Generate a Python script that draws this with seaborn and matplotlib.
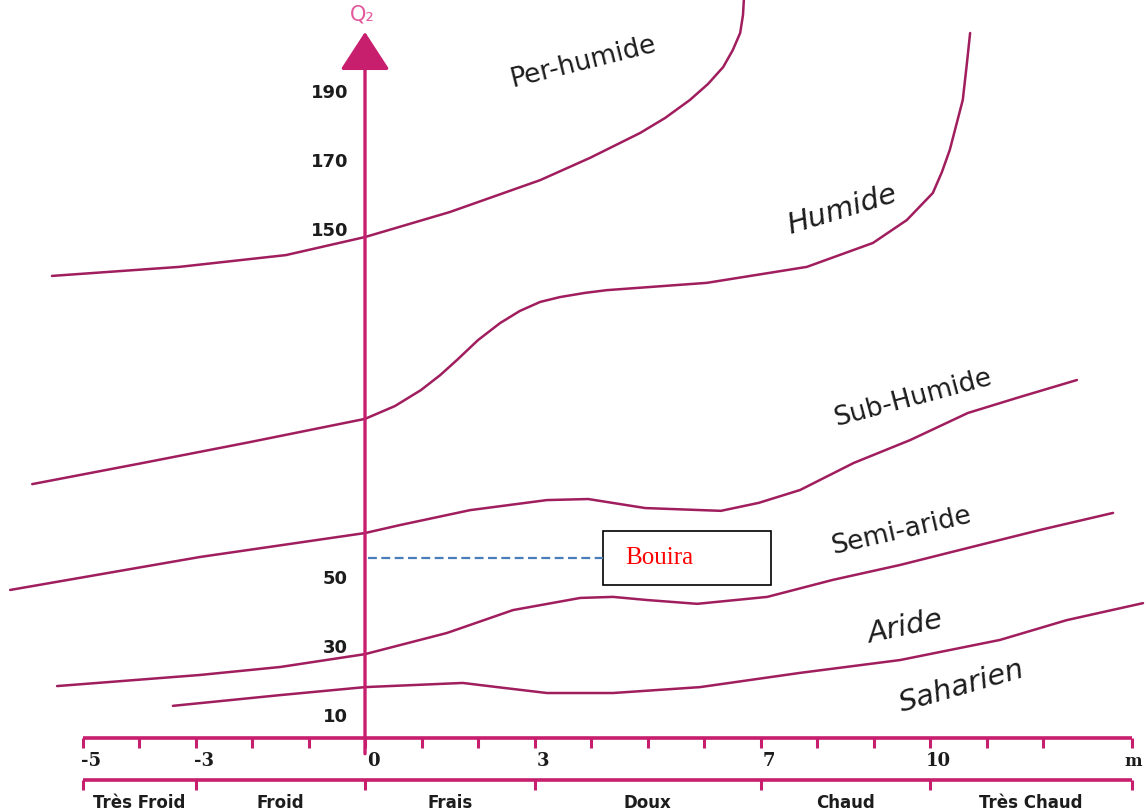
import numpy as np
import pandas as pd
import seaborn as sns
import matplotlib.pyplot as plt
from matplotlib.patches import Rectangle

# Climagramme d'Emberger : Q2 en fonction de m
sns.set_theme(style="white")
plt.rcParams['font.family'] = ['DejaVu Sans']

# courbes limites entre les étages bioclimatiques
per_humide_m = [-5.54, -3.29, -1.40, 0.0, 1.50, 3.10, 3.98, 4.87, 5.31, 5.75, 6.07, 6.34, 6.51, 6.64, 6.69, 6.71]
per_humide_q = [137.2, 139.8, 143.2, 148.4, 155.6, 164.8, 171.2, 178.4, 182.7, 187.9, 192.5, 197.4, 202.3, 207.2, 212.4, 218.0]

humide_m = [-5.89, -3.93, -2.04, 0.0, 0.53, 0.99, 1.33, 1.63, 2.00, 2.39, 2.74, 3.10, 3.45, 3.89, 4.28,
            6.05, 7.82, 8.99, 9.59, 10.05, 10.21, 10.35, 10.58, 10.65, 10.71]
humide_q = [77.2, 83.3, 89.3, 96.0, 99.7, 104.3, 108.6, 113.0, 118.7, 123.6, 127.1, 129.7, 131.1, 132.3, 133.1,
            135.2, 139.8, 146.7, 153.3, 161.1, 167.1, 173.5, 187.9, 198.0, 207.2]

sub_humide_m = [-6.28, -2.92, 0.0, 0.62, 1.86, 3.22, 3.95, 4.96, 6.30, 6.97, 7.70, 8.65, 9.65, 10.67, 11.59, 12.60]
sub_humide_q = [46.7, 56.2, 63.1, 65.4, 69.7, 72.6, 72.9, 70.3, 69.5, 71.8, 75.5, 83.3, 89.9, 97.7, 102.3, 107.2]

aride_m = [-5.45, -2.92, -1.50, 0.0, 1.45, 2.62, 3.81, 4.39, 4.99, 5.88, 7.12, 8.28, 9.47, 10.67, 11.95, 13.24]
aride_q = [19.0, 22.2, 24.5, 28.2, 34.3, 40.9, 44.4, 44.7, 43.8, 42.7, 44.7, 49.6, 53.9, 58.8, 64.0, 68.9]

saharien_m = [-3.40, -1.50, 0.0, 1.73, 2.34, 3.22, 4.39, 5.93, 7.70, 9.47, 11.24, 12.42, 13.77]
saharien_q = [13.3, 16.4, 18.7, 19.9, 18.7, 17.0, 17.0, 18.7, 22.8, 26.5, 32.3, 38.0, 42.9]

# étiquettes des étages
etages = ['Per-humide', 'Humide', 'Sub-Humide', 'Semi-aride', 'Aride', 'Saharien']
etage_m = [3.86, 8.44, 9.70, 9.50, 9.56, 10.57]
etage_q = [198.8, 156.2, 102.0, 63.7, 36.0, 19.0]
etage_rot = [14, 17, 15, 13, 12, 16]
etage_style = ['normal', 'italic', 'normal', 'normal', 'italic', 'italic']

# axes
q_ticks = [10, 30, 50, 150, 170, 190]
m_ticks = list(range(-5, 13))
m_labels = [-5, -3, 0, 3, 7, 10]
m_fin = 13.58
classes = ['Très Froid', 'Froid', 'Frais', 'Doux', 'Chaud', 'Très Chaud']
bornes = [-5, -3, 0, 3, 7, 10, m_fin]

# station
station = 'Bouira'
station_q = 56.0

axe_col = '#c81e6e'
courbe_col = '#a01d5e'
txt_col = '#1c1c1c'

fig = plt.figure(figsize=(11.46, 8.11), dpi=100)
ax = fig.add_axes([0, 0, 1, 1])

courbes = [(per_humide_m, per_humide_q), (humide_m, humide_q), (sub_humide_m, sub_humide_q),
           (aride_m, aride_q), (saharien_m, saharien_q)]
for xs, ys in courbes:
    df = pd.DataFrame({'m': xs, 'Q2': ys})
    sns.lineplot(data=df, x='m', y='Q2', ax=ax, color=courbe_col, lw=1.8,
                 sort=False, estimator=None)
ax.set_xlim(-365 / 56.5, (1146 - 365) / 56.5)
ax.set_ylim((752 - 811) / 3.47, 752 / 3.47)
ax.axis('off')

# axe Q2 avec flèche
ax.annotate('', xy=(0, 207.5), xytext=(0, -0.5),
            arrowprops=dict(arrowstyle='-|>,head_length=2.0,head_width=1.3',
                            color=axe_col, lw=2.4, shrinkA=0, shrinkB=0))
ax.text(-0.05, 212.4, 'Q₂', color='#e2589c', fontsize=15, ha='center', va='center')
for q in q_ticks:
    ax.text(-0.3, q, str(q), ha='right', va='center', fontsize=13,
            fontweight='bold', color=txt_col)

# axe m
y_axe = 4.0
ax.hlines(y_axe, -5, m_fin, color=axe_col, lw=2.6)
ax.vlines(m_ticks + [m_fin], y_axe - 2.8, y_axe, color=axe_col, lw=2.2)
for m in m_labels:
    ax.text(m + 0.15, y_axe - 6.6, str(m), ha='center', va='center', fontsize=13,
            fontweight='bold', family='DejaVu Serif', color=txt_col)
ax.text(13.75, y_axe - 6.6, 'm', ha='right', va='center', fontsize=12,
        fontweight='bold', family='DejaVu Serif', color=txt_col)

# classes de températures
y_cls = -8.1
ax.hlines(y_cls, -5, m_fin, color=axe_col, lw=2.6)
ax.vlines(bornes, y_cls - 2.8, y_cls, color=axe_col, lw=2.2)
for i, c in enumerate(classes):
    ax.text((bornes[i] + bornes[i + 1]) / 2, -14.6, c, ha='center', va='center',
            fontsize=12, fontweight='bold', color=txt_col)

# noms des étages
for nom, xm, yq, r, st in zip(etages, etage_m, etage_q, etage_rot, etage_style):
    ax.text(xm, yq, nom, rotation=r, rotation_mode='anchor', ha='center', va='center',
            fontsize=19 if st == 'normal' else 21, fontstyle=st, color=txt_col)

# station de Bouira
ax.plot([0.05, 4.21], [station_q, station_q], ls='--', dashes=(4, 2),
        color='#4a7ebb', lw=1.6)
ax.add_patch(Rectangle((4.21, station_q - 7.8), 2.98, 15.6, fill=True,
                       facecolor='white', edgecolor='black', lw=1.2))
ax.text(4.6, station_q, station, ha='left', va='center', fontsize=18,
        family='Liberation Serif', color='red')

fig.savefig('out.png', dpi=100, facecolor='white')
